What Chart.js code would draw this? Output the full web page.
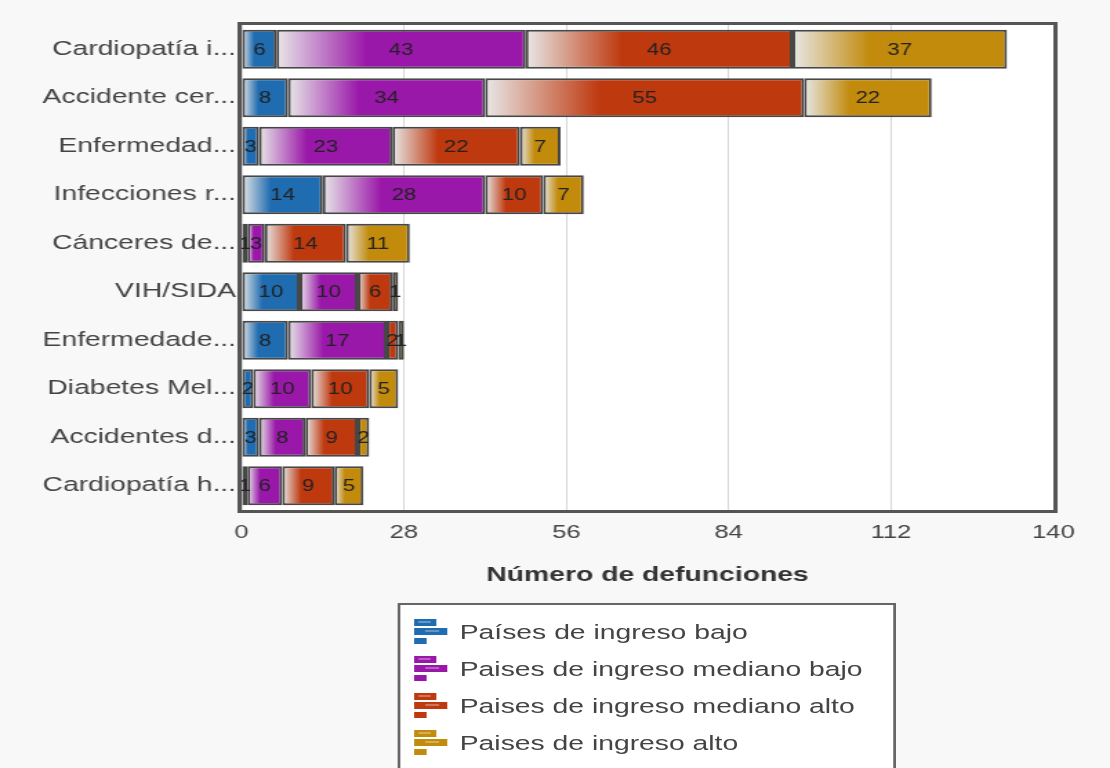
<!DOCTYPE html>
<html>
<head>
<meta charset="utf-8">
<script src="https://cdn.jsdelivr.net/npm/chart.js@4/dist/chart.umd.min.js"></script>
<style>
    body { margin: 0; background: #f8f8f8; font-family: 'Liberation Sans', Arial, sans-serif; overflow: hidden; }
    /* the reference is a horizontally stretched picture, so draw narrow and stretch */
    #wrap { position: relative; width: 804px; height: 768px; overflow: hidden;
            transform: scaleX(1.3806); transform-origin: 0 0; }
    #chart { position: absolute; left: 0; top: 0; }
    #legend {
        position: absolute; left: 288px; top: 603px; width: 361px; height: 180px;
        background: #fff; border: 2px solid #666; box-sizing: border-box;
        padding-top: 8px;
    }
    .leg-row { height: 37px; display: flex; align-items: center; color: #444; font-size: 20.5px; }
    .leg-row canvas { margin-left: 10px; margin-right: 9px; }
</style>
</head>
<body>
<div id="wrap">
    <canvas id="chart" width="804" height="600"></canvas>
    <div id="legend"></div>
</div>
<script>
var categories = ['Cardiopatía i...', 'Accidente cer...', 'Enfermedad...', 'Infecciones r...',
    'Cánceres de...', 'VIH/SIDA', 'Enfermedade...', 'Diabetes Mel...', 'Accidentes d...', 'Cardiopatía h...'];
var ingresoBajo        = [6, 8, 3, 14, 1, 10, 8, 2, 3, 1];
var ingresoMedianoBajo = [43, 34, 23, 28, 3, 10, 17, 10, 8, 6];
var ingresoMedianoAlto = [46, 55, 22, 10, 14, 6, 2, 10, 9, 9];
var ingresoAlto        = [37, 22, 7, 7, 11, 1, 1, 5, 2, 5];
var seriesNames = ['Países de ingreso bajo', 'Paises de ingreso mediano bajo',
    'Paises de ingreso mediano alto', 'Paises de ingreso alto'];
var seriesColors = ['#1f6cb0', '#9a18a9', '#bf390f', '#c28b0c'];
var xTicks = [0, 28, 56, 84, 112, 140];

var FONT = "'Liberation Sans', Arial, sans-serif";

function gradientFill(context) {
    var color = seriesColors[context.datasetIndex];
    var chart = context.chart;
    if (!chart.chartArea || context.type !== 'data') {
        return color;
    }
    var xs = chart.scales.x;
    var i = context.dataIndex;
    var start = 0;
    for (var d = 0; d < context.datasetIndex; d++) {
        start += chart.data.datasets[d].data[i];
    }
    var end = start + chart.data.datasets[context.datasetIndex].data[i];
    var x0 = xs.getPixelForValue(start);
    var x1 = xs.getPixelForValue(end);
    if (!isFinite(x0) || !isFinite(x1) || x1 - x0 < 8) {
        return color;
    }
    var g = chart.ctx.createLinearGradient(x0, 0, x1, 0);
    g.addColorStop(0, '#e8e8e8');
    g.addColorStop(0.36, color);
    g.addColorStop(1, color);
    return g;
}

var datasets = [ingresoBajo, ingresoMedianoBajo, ingresoMedianoAlto, ingresoAlto].map(function(vals, k) {
    return {
        label: seriesNames[k],
        data: vals,
        backgroundColor: gradientFill,
        borderColor: '#474747',
        borderWidth: 2,
        borderSkipped: false,
        categoryPercentage: 0.8,
        barPercentage: 1.0
    };
});

// white plot background + dark frame
var framePlugin = {
    id: 'frame',
    beforeDraw: function(chart) {
        var a = chart.chartArea, c = chart.ctx;
        c.save();
        c.fillStyle = '#fff';
        c.fillRect(a.left, a.top, a.right - a.left, a.bottom - a.top);
        c.restore();
    },
    afterDraw: function(chart) {
        var a = chart.chartArea, c = chart.ctx;
        c.save();
        c.strokeStyle = '#555';
        c.lineWidth = 3;
        c.strokeRect(a.left - 1.5, a.top - 1.5, a.right - a.left + 3, a.bottom - a.top + 3);
        c.restore();
    }
};

// numbers centred inside each segment
var labelPlugin = {
    id: 'segLabels',
    afterDatasetsDraw: function(chart) {
        var c = chart.ctx;
        c.save();
        c.font = '16px ' + FONT;
        c.fillStyle = '#222';
        c.textAlign = 'center';
        c.textBaseline = 'middle';
        chart.data.datasets.forEach(function(ds, di) {
            chart.getDatasetMeta(di).data.forEach(function(bar, i) {
                var p = bar.getProps(['x', 'y', 'base'], true);
                c.fillText(String(ds.data[i]), (p.x + p.base) / 2, p.y + 1);
            });
        });
        c.restore();
    }
};

var chart = new Chart(document.getElementById('chart'), {
    type: 'bar',
    data: { labels: categories, datasets: datasets },
    options: {
        indexAxis: 'y',
        responsive: false,
        animation: false,
        layout: { padding: { top: 25, right: 41, left: 0, bottom: 0 } },
        plugins: { legend: { display: false }, tooltip: { enabled: false } },
        scales: {
            x: {
                stacked: true,
                min: 0,
                max: 140,
                afterBuildTicks: function(scale) {
                    scale.ticks = xTicks.map(function(v) { return { value: v }; });
                },
                grid: { color: '#d8d8d8', lineWidth: 1, drawTicks: false },
                border: { display: false },
                ticks: { color: '#444', font: { family: FONT, size: 18.5 }, padding: 12 },
                title: {
                    display: true, text: 'Número de defunciones', color: '#333',
                    font: { family: FONT, size: 20.5, weight: 'bold' }, padding: { top: 2 }
                },
                afterFit: function(scale) { scale.height = 90; }
            },
            y: {
                stacked: true,
                grid: { display: false, drawTicks: false },
                border: { display: false },
                ticks: { color: '#444', font: { family: FONT, size: 20.5 }, padding: 4 },
                afterFit: function(scale) { scale.width = 175; }
            }
        }
    },
    plugins: [framePlugin, labelPlugin, {
        id: 'titleShift',
        // move the axis title up a little, keeping the plot area fixed
        beforeDraw: function(chart) {
            chart.scales.x.bottom = 592;
        }
    }]
});

// legend with small bar icons
function drawIcon(color) {
    var cv = document.createElement('canvas');
    cv.width = 24; cv.height = 28;
    var c = cv.getContext('2d');
    c.fillStyle = color;
    c.fillRect(0, 1, 16, 7);
    c.fillRect(0, 10, 24, 7);
    c.fillRect(0, 20, 9, 6);
    c.fillStyle = 'rgba(255,255,255,0.3)';
    c.fillRect(3, 3, 9, 2);
    c.fillRect(8, 12, 10, 2);
    return cv;
}
var $legend = document.getElementById('legend');
chart.data.datasets.forEach(function(ds, k) {
    var row = document.createElement('div');
    row.className = 'leg-row';
    row.appendChild(drawIcon(seriesColors[k]));
    var span = document.createElement('span');
    span.textContent = ds.label;
    row.appendChild(span);
    $legend.appendChild(row);
});
</script>
</body>
</html>
